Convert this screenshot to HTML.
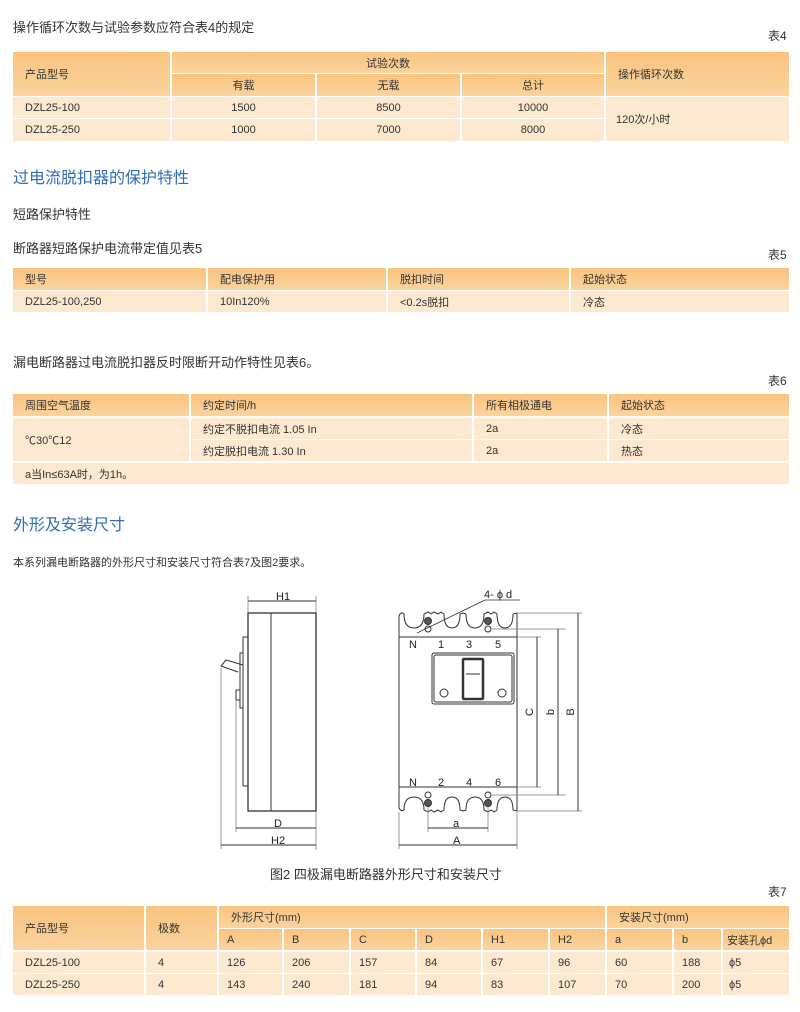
<!DOCTYPE html>
<html><head><meta charset="utf-8"><style>
body{margin:0;width:800px;height:1012px;background:#fff;position:relative;font-family:"Liberation Sans","Noto Sans CJK SC",sans-serif;color:#333;overflow:hidden}
.t{position:absolute;font-size:12px;white-space:nowrap}
.h{position:absolute;font-size:16px;color:#2f6db4;white-space:nowrap}
.c{position:absolute;font-size:11px;display:flex;align-items:center;box-sizing:border-box;padding-left:12px;white-space:nowrap}
.hd{background:linear-gradient(#f9c47f,#fbd39e)}
.rw{background:#fde9d0}
.ctr{justify-content:center;padding-left:0}
</style></head><body>
<div class="t" style="left:13px;top:17px;font-size:13px">操作循环次数与试验参数应符合表4的规定</div>
<div class="t" style="left:768px;top:27px">表4</div>

<!-- table4 -->
<div class="c hd" style="left:13px;top:52px;width:157px;height:44px">产品型号</div>
<div class="c hd ctr" style="left:172px;top:52px;width:432px;height:21px">试验次数</div>
<div class="c hd ctr" style="left:172px;top:74px;width:143px;height:22px">有载</div>
<div class="c hd ctr" style="left:317px;top:74px;width:143px;height:22px">无载</div>
<div class="c hd ctr" style="left:462px;top:74px;width:142px;height:22px">总计</div>
<div class="c hd" style="left:606px;top:52px;width:183px;height:44px">操作循环次数</div>
<div class="c rw" style="left:13px;top:97px;width:157px;height:21px">DZL25-100</div>
<div class="c rw ctr" style="left:172px;top:97px;width:143px;height:21px">1500</div>
<div class="c rw ctr" style="left:317px;top:97px;width:143px;height:21px">8500</div>
<div class="c rw ctr" style="left:462px;top:97px;width:142px;height:21px">10000</div>
<div class="c rw" style="left:13px;top:119px;width:157px;height:22px">DZL25-250</div>
<div class="c rw ctr" style="left:172px;top:119px;width:143px;height:22px">1000</div>
<div class="c rw ctr" style="left:317px;top:119px;width:143px;height:22px">7000</div>
<div class="c rw ctr" style="left:462px;top:119px;width:142px;height:22px">8000</div>
<div class="c rw" style="left:606px;top:97px;width:183px;height:44px;padding-left:10px">120次/小时</div>

<div class="h" style="left:13px;top:164px">过电流脱扣器的保护特性</div>
<div class="t" style="left:13px;top:204px;font-size:13px">短路保护特性</div>
<div class="t" style="left:13px;top:238px;font-size:13px">断路器短路保护电流带定值见表5</div>
<div class="t" style="left:768px;top:246px">表5</div>

<div class="c hd" style="left:13px;top:268px;width:193px;height:22px">型号</div>
<div class="c hd" style="left:208px;top:268px;width:178px;height:22px">配电保护用</div>
<div class="c hd" style="left:388px;top:268px;width:181px;height:22px">脱扣时间</div>
<div class="c hd" style="left:571px;top:268px;width:218px;height:22px">起始状态</div>
<div class="c rw" style="left:13px;top:291px;width:193px;height:21px">DZL25-100,250</div>
<div class="c rw" style="left:208px;top:291px;width:178px;height:21px">10In120%</div>
<div class="c rw" style="left:388px;top:291px;width:181px;height:21px">&lt;0.2s脱扣</div>
<div class="c rw" style="left:571px;top:291px;width:218px;height:21px">冷态</div>

<div class="t" style="left:13px;top:352px;font-size:13px">漏电断路器过电流脱扣器反时限断开动作特性见表6。</div>
<div class="t" style="left:768px;top:372px">表6</div>

<div class="c hd" style="left:13px;top:394px;width:176px;height:22px">周围空气温度</div>
<div class="c hd" style="left:191px;top:394px;width:281px;height:22px">约定时间/h</div>
<div class="c hd" style="left:474px;top:394px;width:133px;height:22px">所有相极通电</div>
<div class="c hd" style="left:609px;top:394px;width:180px;height:22px">起始状态</div>
<div class="c rw" style="left:13px;top:418px;width:176px;height:43px">℃30℃12</div>
<div class="c rw" style="left:191px;top:418px;width:281px;height:21px">约定不脱扣电流 1.05 In</div>
<div class="c rw" style="left:474px;top:418px;width:133px;height:21px">2a</div>
<div class="c rw" style="left:609px;top:418px;width:180px;height:21px">冷态</div>
<div class="c rw" style="left:191px;top:440px;width:281px;height:21px">约定脱扣电流 1.30 In</div>
<div class="c rw" style="left:474px;top:440px;width:133px;height:21px">2a</div>
<div class="c rw" style="left:609px;top:440px;width:180px;height:21px">热态</div>
<div class="c rw" style="left:13px;top:463px;width:776px;height:21px">a当In≤63A时，为1h。</div>

<div class="h" style="left:13px;top:511px">外形及安装尺寸</div>
<div class="t" style="left:13px;top:554px;font-size:11px">本系列漏电断路器的外形尺寸和安装尺寸符合表7及图2要求。</div>

<svg style="position:absolute;left:0;top:0" width="800" height="1012" font-family="Liberation Sans" font-size="11" fill="none" stroke="#333" stroke-width="1">
<rect x="248" y="613" width="68" height="198" stroke-width="1.3"/>
<line x1="271" y1="613" x2="271" y2="811"/>
<path d="M248 637 H243 V786 H248"/>
<path d="M243 653 H240 V708 H243"/>
<path d="M240 690 H236 V700 H240"/>
<path d="M243 665 L226 660 L221 666 L238 672"/>
<line x1="248" y1="612" x2="248" y2="596" stroke="#999"/><line x1="316" y1="612" x2="316" y2="596" stroke="#999"/>
<line x1="248" y1="601" x2="316" y2="601"/>
<line x1="316" y1="812" x2="316" y2="850" stroke="#999"/>
<line x1="236" y1="700" x2="236" y2="832" stroke="#999"/>
<line x1="221" y1="668" x2="221" y2="849" stroke="#999"/>
<line x1="236" y1="828" x2="316" y2="828"/>
<line x1="221" y1="845" x2="316" y2="845"/>
<path d="M399 637 V616 Q401 611 404 614 Q404 628 414 628 Q424 628 424 614 L428 612 L431 614 L434 612 L438 614 L441 612 L444 614 Q444 628 452 628 Q460 628 460 614 L463 613 L466 614 Q466 628 475 628 Q484 628 484 614 L488 612 L491 614 L494 612 L497 614 Q497 628 505 628 Q513 628 513 614 L517 613 V637 Z"/>
<rect x="399" y="637" width="118" height="150"/>
<path d="M399 787 V808 Q401 812 404 810 Q404 797 414 797 Q424 797 424 810 L428 812 L431 810 L434 812 L438 810 L441 812 L444 810 Q444 797 452 797 Q460 797 460 810 L463 811 L466 810 Q466 797 475 797 Q484 797 484 810 L488 812 L491 810 L494 812 L497 810 Q497 797 505 797 Q513 797 513 810 L517 811 V787 Z"/>
<rect x="432" y="653" width="82" height="51" rx="2"/>
<rect x="434" y="655" width="78" height="47" rx="2"/>
<rect x="463" y="659" width="20" height="40" rx="1" stroke-width="2.5"/>
<line x1="466" y1="674" x2="480" y2="674"/>
<circle cx="444" cy="693" r="4"/><circle cx="502" cy="693" r="4"/>
<circle cx="428" cy="621" r="3.5" fill="#555"/><circle cx="428" cy="629" r="3"/>
<circle cx="488" cy="621" r="3.5" fill="#555"/><circle cx="488" cy="629" r="3"/>
<circle cx="428" cy="803" r="3.5" fill="#555"/><circle cx="428" cy="795" r="3"/>
<circle cx="488" cy="803" r="3.5" fill="#555"/><circle cx="488" cy="795" r="3"/>
<line x1="417" y1="633" x2="485" y2="600" stroke-width="0.8"/>
<line x1="485" y1="600" x2="520" y2="600" stroke-width="0.8"/>
<line x1="517" y1="613" x2="582" y2="613" stroke="#999"/>
<line x1="517" y1="811" x2="582" y2="811" stroke="#999"/>
<line x1="492" y1="629" x2="566" y2="629" stroke="#999"/>
<line x1="492" y1="795" x2="566" y2="795" stroke="#999"/>
<line x1="517" y1="637" x2="541" y2="637" stroke="#999"/>
<line x1="517" y1="787" x2="541" y2="787" stroke="#999"/>
<line x1="537" y1="637" x2="537" y2="787"/>
<line x1="558" y1="629" x2="558" y2="795"/>
<line x1="578" y1="613" x2="578" y2="811"/>
<line x1="428" y1="807" x2="428" y2="832" stroke="#999"/><line x1="488" y1="807" x2="488" y2="832" stroke="#999"/>
<line x1="399" y1="812" x2="399" y2="849" stroke="#999"/><line x1="517" y1="812" x2="517" y2="849" stroke="#999"/>
<line x1="428" y1="828" x2="488" y2="828"/>
<line x1="399" y1="845" x2="517" y2="845"/>
<g fill="#222" stroke="none" font-size="11">
<text x="276" y="600">H1</text>
<text x="274" y="827">D</text>
<text x="271" y="844">H2</text>
<text x="453" y="827">a</text>
<text x="453" y="844">A</text>
<text x="484" y="598">4- ϕ d</text>
<text x="409" y="648">N</text><text x="438" y="648">1</text><text x="466" y="648">3</text><text x="495" y="648">5</text>
<text x="409" y="786">N</text><text x="438" y="786">2</text><text x="466" y="786">4</text><text x="495" y="786">6</text>
<text transform="translate(533,712) rotate(-90)" text-anchor="middle">C</text>
<text transform="translate(554,712) rotate(-90)" text-anchor="middle">b</text>
<text transform="translate(574,712) rotate(-90)" text-anchor="middle">B</text>
</g>
</svg>

<div class="t" style="left:270px;top:864px;font-size:13px">图2 四极漏电断路器外形尺寸和安装尺寸</div>
<div class="t" style="left:768px;top:883px">表7</div>

<div class="c hd" style="left:13px;top:906px;width:131px;height:44px">产品型号</div>
<div class="c hd" style="left:146px;top:906px;width:71px;height:44px">极数</div>
<div class="c hd" style="left:219px;top:906px;width:386px;height:22px">外形尺寸(mm)</div>
<div class="c hd" style="left:607px;top:906px;width:182px;height:22px">安装尺寸(mm)</div>
<div class="c hd" style="left:219px;top:929px;width:63px;height:21px;padding-left:8px">A</div>
<div class="c hd" style="left:284px;top:929px;width:65px;height:21px;padding-left:8px">B</div>
<div class="c hd" style="left:351px;top:929px;width:64px;height:21px;padding-left:8px">C</div>
<div class="c hd" style="left:417px;top:929px;width:64px;height:21px;padding-left:8px">D</div>
<div class="c hd" style="left:483px;top:929px;width:65px;height:21px;padding-left:8px">H1</div>
<div class="c hd" style="left:550px;top:929px;width:55px;height:21px;padding-left:8px">H2</div>
<div class="c hd" style="left:607px;top:929px;width:65px;height:21px;padding-left:8px">a</div>
<div class="c hd" style="left:674px;top:929px;width:47px;height:21px;padding-left:8px">b</div>
<div class="c hd" style="left:723px;top:929px;width:66px;height:21px;padding-left:4px">安装孔ϕd</div>

<div class="c rw" style="left:13px;top:952px;width:131px;height:21px">DZL25-100</div>
<div class="c rw" style="left:146px;top:952px;width:71px;height:21px">4</div>
<div class="c rw" style="left:219px;top:952px;width:63px;height:21px;padding-left:8px">126</div>
<div class="c rw" style="left:284px;top:952px;width:65px;height:21px;padding-left:8px">206</div>
<div class="c rw" style="left:351px;top:952px;width:64px;height:21px;padding-left:8px">157</div>
<div class="c rw" style="left:417px;top:952px;width:64px;height:21px;padding-left:8px">84</div>
<div class="c rw" style="left:483px;top:952px;width:65px;height:21px;padding-left:8px">67</div>
<div class="c rw" style="left:550px;top:952px;width:55px;height:21px;padding-left:8px">96</div>
<div class="c rw" style="left:607px;top:952px;width:65px;height:21px;padding-left:8px">60</div>
<div class="c rw" style="left:674px;top:952px;width:47px;height:21px;padding-left:8px">188</div>
<div class="c rw" style="left:723px;top:952px;width:66px;height:21px;padding-left:6px">ϕ5</div>

<div class="c rw" style="left:13px;top:974px;width:131px;height:21px">DZL25-250</div>
<div class="c rw" style="left:146px;top:974px;width:71px;height:21px">4</div>
<div class="c rw" style="left:219px;top:974px;width:63px;height:21px;padding-left:8px">143</div>
<div class="c rw" style="left:284px;top:974px;width:65px;height:21px;padding-left:8px">240</div>
<div class="c rw" style="left:351px;top:974px;width:64px;height:21px;padding-left:8px">181</div>
<div class="c rw" style="left:417px;top:974px;width:64px;height:21px;padding-left:8px">94</div>
<div class="c rw" style="left:483px;top:974px;width:65px;height:21px;padding-left:8px">83</div>
<div class="c rw" style="left:550px;top:974px;width:55px;height:21px;padding-left:8px">107</div>
<div class="c rw" style="left:607px;top:974px;width:65px;height:21px;padding-left:8px">70</div>
<div class="c rw" style="left:674px;top:974px;width:47px;height:21px;padding-left:8px">200</div>
<div class="c rw" style="left:723px;top:974px;width:66px;height:21px;padding-left:6px">ϕ5</div>
</body></html>
